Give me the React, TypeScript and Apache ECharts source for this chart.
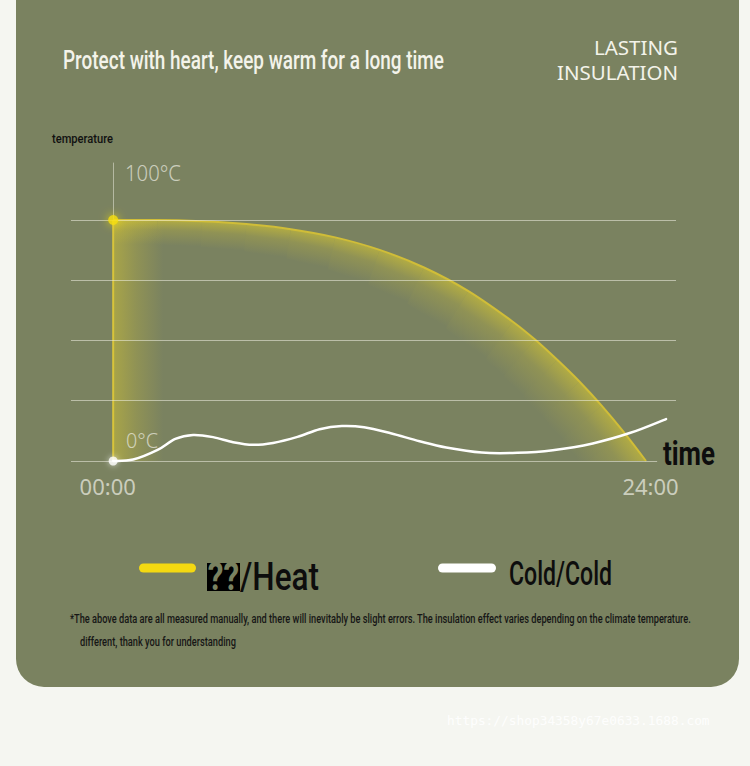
import React, { useEffect, useRef } from "react";
import * as echarts from "echarts";

// ---- data ----
const heatHours = [0, 2, 4, 6, 8, 10, 12, 14, 16, 18, 19, 20, 21, 22, 23, 24];
const heatTemps = [100, 100, 99.5, 98.3, 96.2, 92.8, 87.6, 80.3, 70.5, 57.8, 50.4, 42, 33, 23, 12, 0];
const coldHours = [0, 0.9, 2, 2.8, 3.6, 4.5, 5.4, 6.3, 7.2, 8.3, 9.3, 10.3, 11.3, 12.5, 13.8, 15, 16.6, 18.2, 19.8, 21.6, 23.3, 24.9];
const coldTemps = [0, 0.6, 4.6, 9.2, 10.8, 9.9, 7.8, 6.7, 7.5, 10, 13.2, 14.5, 14, 11.5, 8.2, 5.6, 3.5, 3.4, 4.5, 7.3, 11.7, 17.4];
const gridValues = [25, 50, 75, 100];
const xLabelHours = [0, 24];
const yLabels = ["100°C", "0°C"];
const heatName = "??/Heat";
const coldName = "Cold/Cold";

const OLIVE = "#7a8260";
const YELLOW_RGB = "232,212,40";

const measure = (() => {
  let ctx: CanvasRenderingContext2D | null = null;
  return (text: string, font: string) => {
    if (!ctx) ctx = document.createElement("canvas").getContext("2d");
    ctx!.font = font;
    return ctx!.measureText(text).width;
  };
})();

function txt(
  text: string,
  x: number,
  y: number,
  size: number,
  weight: string | number,
  family: string,
  color: string,
  align: "left" | "right" | "center",
  targetW?: number
) {
  const w = measure(text, `${weight} ${size}px ${family}`);
  const scaleX = targetW ? targetW / w : 1;
  return {
    type: "text",
    x,
    y,
    scaleX,
    z: 10,
    silent: true,
    style: {
      text,
      fontSize: size,
      fontWeight: weight,
      fontFamily: family,
      fill: color,
      align,
      verticalAlign: "middle",
      textAlign: align,
      textVerticalAlign: "middle",
    },
  };
}

// Catmull-Rom spline through pixel points -> SVG path data
function splinePath(p: number[][]) {
  let d = `M${p[0][0]},${p[0][1]}`;
  for (let i = 0; i < p.length - 1; i++) {
    const p0 = p[Math.max(i - 1, 0)];
    const p1 = p[i];
    const p2 = p[i + 1];
    const p3 = p[Math.min(i + 2, p.length - 1)];
    const c1 = [p1[0] + (p2[0] - p0[0]) / 6, p1[1] + (p2[1] - p0[1]) / 6];
    const c2 = [p2[0] - (p3[0] - p1[0]) / 6, p2[1] - (p3[1] - p1[1]) / 6];
    d += ` C${c1[0]},${c1[1]} ${c2[0]},${c2[1]} ${p2[0]},${p2[1]}`;
  }
  return d;
}

export default function App() {
  const ref = useRef<HTMLDivElement>(null);
  useEffect(() => {
    document.body.style.margin = "0";
    const chart = echarts.init(ref.current!, null, { renderer: "svg" });
    const heatData = heatHours.map((h, i) => [h, heatTemps[i]]);
    const coldData = coldHours.map((h, i) => [h, coldTemps[i]]);

    const COND = "Roboto, 'Noto Sans', sans-serif";
    const LIGHT = "'Noto Sans', 'Open Sans', sans-serif";

    const legSize = 38;
    const qW = measure("??", `bold ${legSize}px ${COND}`) + 2;
    const hW = measure("/Heat", `500 ${legSize}px ${COND}`);
    const heatScale = 112 / (qW + hW);

    const stops = [
      { offset: 0, color: `rgba(${YELLOW_RGB},0.5)` },
      { offset: 0.4, color: `rgba(${YELLOW_RGB},0.2)` },
      { offset: 1, color: `rgba(${YELLOW_RGB},0)` },
    ];
    const leftStops = [
      { offset: 0, color: `rgba(${YELLOW_RGB},0.42)` },
      { offset: 0.45, color: `rgba(${YELLOW_RGB},0.2)` },
      { offset: 1, color: `rgba(${YELLOW_RGB},0)` },
    ];

    const option: any = {
      animation: false,
      backgroundColor: "#f5f6f1",
      grid: { left: 71, right: 74, top: 163, bottom: 305, containLabel: false, outerBoundsMode: "none" },
      xAxis: {
        type: "value",
        min: -1.9,
        max: 25.35,
        axisLine: { show: false },
        axisTick: { show: false },
        splitLine: { show: false },
        axisLabel: {
          customValues: xLabelHours,
          formatter: (v: number) => (v === 0 ? "{a|" : "{b|") + String(v).padStart(2, "0") + ":00}",
          color: "rgba(236,236,226,0.72)",
          fontSize: 22,
          fontFamily: LIGHT,
          margin: 14,
          rich: {
            a: { fontSize: 22, fontFamily: LIGHT, color: "rgba(236,236,226,0.72)", padding: [0, 11, 0, 0] },
            b: { fontSize: 22, fontFamily: LIGHT, color: "rgba(236,236,226,0.72)", padding: [0, 0, 0, 9] },
          },
        },
      },
      yAxis: {
        type: "value",
        min: 0,
        max: 123.65,
        axisLine: { show: true, lineStyle: { color: "rgba(240,240,228,0.5)", width: 1 } },
        axisTick: { show: false },
        axisLabel: { show: false },
        splitLine: { show: false },
      },
      graphic: {
        elements: [
          {
            type: "rect",
            z: -10,
            silent: true,
            shape: { x: 16, y: -40, width: 723, height: 727, r: 28 },
            style: { fill: OLIVE },
          },
          txt("Protect with heart, keep warm for a long time", 63, 60, 25, 500, COND, "#f3f3ea", "left", 381),
          txt("LASTING", 678, 47, 20, "normal", LIGHT, "#f3f3ea", "right", 84),
          txt("INSULATION", 678, 72, 20, "normal", LIGHT, "#f3f3ea", "right", 121),
          txt("temperature", 52, 139, 13, 500, COND, "#111", "left", 61),
          txt(yLabels[0], 125, 173, 21, 300, LIGHT, "rgba(236,236,226,0.72)", "left", 56),
          txt(yLabels[1], 126, 440, 20, 300, LIGHT, "rgba(236,236,226,0.72)", "left", 32),
          txt("time", 663, 453, 34, "bold", COND, "#0d0d0d", "left", 52),
          {
            type: "rect",
            z: 10,
            silent: true,
            shape: { x: 139, y: 563.5, width: 57, height: 9, r: 4.5 },
            style: { fill: "#f4d911" },
          },
          {
            type: "text",
            x: 207,
            y: 577,
            scaleX: heatScale,
            z: 10,
            silent: true,
            style: {
              text: "{q|??}{h|/Heat}",
              verticalAlign: "middle",
              textVerticalAlign: "middle",
              rich: {
                q: {
                  fontSize: legSize,
                  fontWeight: "bold",
                  fontFamily: COND,
                  fill: OLIVE,
                  backgroundColor: "#000",
                  padding: [0, 1, 0, 1],
                  lineHeight: 30,
                  height: 28,
                },
                h: { fontSize: legSize, fontWeight: 500, fontFamily: COND, fill: "#0d0d0d" },
              },
            },
          },
          {
            type: "rect",
            z: 10,
            silent: true,
            shape: { x: 438, y: 563.5, width: 58, height: 9, r: 4.5 },
            style: { fill: "#ffffff" },
          },
          txt(coldName, 509, 574, 33, 500, COND, "#0d0d0d", "left", 103),
          txt(
            "*The above data are all measured manually, and there will inevitably be slight errors. The insulation effect varies depending on the climate temperature.",
            70, 619, 12, 500, COND, "#161616", "left", 622
          ),
          txt("different, thank you for understanding", 80, 642, 12, 500, COND, "#161616", "left", 156),
          txt("https://shop34358y67e0633.1688.com", 447, 720, 13, "normal", "'DejaVu Sans Mono', monospace", "rgba(255,255,255,0.9)", "left", 263),
        ],
      },
      series: [
        {
          type: "custom",
          name: "heatGlow",
          silent: true,
          clip: true,
          z: 1,
          data: heatData,
          encode: { x: 0, y: 1 },
          renderItem: (params: any, api: any) => {
            const i = params.dataIndex;
            const n = heatData.length;
            if (i >= n - 1) return null;
            const pts = heatData.map((d) => api.coord(d));
            const vn = (k: number) => {
              const a = pts[Math.max(k - 1, 0)];
              const b = pts[Math.min(k + 1, n - 1)];
              let tx = b[0] - a[0];
              let ty = b[1] - a[1];
              const l = Math.hypot(tx, ty) || 1;
              tx /= l;
              ty /= l;
              const D = 24 + 38 * Math.abs(ty);
              return [-ty * D, tx * D];
            };
            const n0 = vn(i);
            const n1 = vn(i + 1);
            const o0 = pts[i];
            const o1 = pts[i + 1];
            const in0 = [o0[0] + n0[0], o0[1] + n0[1]];
            const in1 = [o1[0] + n1[0], o1[1] + n1[1]];
            const mo = [(o0[0] + o1[0]) / 2, (o0[1] + o1[1]) / 2];
            const mi = [(in0[0] + in1[0]) / 2, (in0[1] + in1[1]) / 2];
            const children: any[] = [
              {
                type: "polygon",
                shape: { points: [o0, o1, in1, in0] },
                style: { fill: new echarts.graphic.LinearGradient(mo[0], mo[1], mi[0], mi[1], stops, true) },
              },
            ];
            if (i === 0) {
              const top = api.coord([0, heatTemps[0]]);
              const bot = api.coord([0, 0]);
              children.push({
                type: "rect",
                shape: { x: top[0], y: top[1], width: 50, height: bot[1] - top[1] },
                style: {
                  fill: new echarts.graphic.LinearGradient(top[0], 0, top[0] + 50, 0, leftStops, true),
                },
              });
            }
            return { type: "group", children };
          },
        },
        {
          type: "line",
          name: "heatRise",
          z: 3,
          data: [
            [0, 0],
            [0, heatTemps[0]],
          ],
          showSymbol: false,
          symbol: "none",
          lineStyle: { color: "#d8c43a", width: 2 },
          silent: true,
          markLine: {
            silent: true,
            symbol: ["none", "none"],
            label: { show: false },
            lineStyle: { color: "rgba(240,240,228,0.55)", width: 1, type: "solid" },
            data: [
              ...gridValues.map((v) => ({ yAxis: v })),
              [{ coord: [-1.9, 0] }, { coord: [24.5, 0] }],
            ],
          },
        },
        {
          type: "line",
          name: heatName,
          z: 4,
          data: heatData,
          smooth: 0.35,
          showSymbol: false,
          symbol: "none",
          lineStyle: { color: "#d0bd38", width: 2 },
          silent: true,
        },
        {
          type: "custom",
          name: coldName,
          z: 5,
          silent: true,
          clip: false,
          data: coldData,
          encode: { x: 0, y: 1 },
          renderItem: (params: any, api: any) => {
            if (params.dataIndex !== 0) return null;
            const pts = coldData.map((d) => api.coord(d));
            return {
              type: "path",
              shape: { pathData: splinePath(pts) },
              style: { fill: "none", stroke: "#ffffff", lineWidth: 2.5, lineCap: "round" },
            };
          },
        },
        {
          type: "scatter",
          z: 6,
          data: [[0, heatTemps[0]]],
          symbolSize: 10,
          itemStyle: { color: "#f6de0c", shadowBlur: 10, shadowColor: "rgba(255,232,0,0.9)" },
          silent: true,
        },
        {
          type: "scatter",
          z: 6,
          data: [[0, coldTemps[0]]],
          symbolSize: 9,
          itemStyle: { color: "#ffffff", shadowBlur: 6, shadowColor: "rgba(255,255,255,0.8)" },
          silent: true,
        },
      ],
    };
    chart.setOption(option);
    return () => chart.dispose();
  }, []);
  return <div ref={ref} style={{ width: 750, height: 766 }} />;
}
